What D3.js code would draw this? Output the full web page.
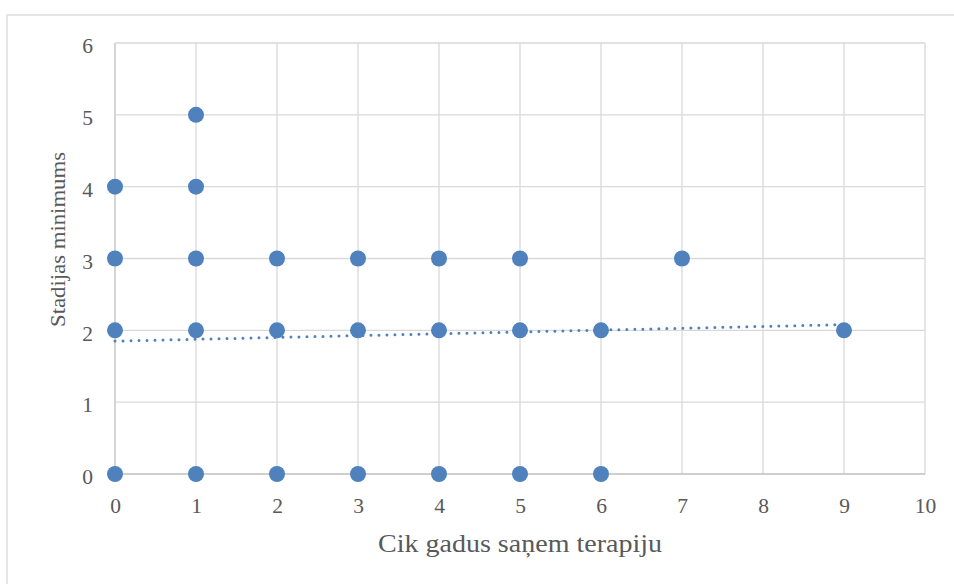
<!DOCTYPE html>
<html><head><meta charset="utf-8">
<script src="https://cdn.jsdelivr.net/npm/d3@7"></script>
<style>body{margin:0;background:#fff}svg{display:block}</style>
</head><body>
<svg id="c" width="954" height="584"></svg>
<script>
const xValues = [0,0,0,0, 1,1,1,1,1, 2,2,2, 3,3,3, 4,4,4, 5,5,5, 6,6, 7, 9];
const yValues = [0,2,3,4, 0,2,3,4,5, 0,2,3, 0,2,3, 0,2,3, 0,2,3, 0,2, 3, 2];
const trendX = [0, 9];
const trendY = [1.85, 2.08];
const xTicks = [0,1,2,3,4,5,6,7,8,9,10];
const yTicks = [0,1,2,3,4,5,6];
const xTitle = "Cik gadus saņem terapiju";
const yTitle = "Stadijas minimums";

const svg = d3.select("#c");
const font = "'Liberation Serif', 'DejaVu Serif', serif";
const L = 115, R = 925, T = 43, B = 474;
const x = d3.scaleLinear().domain([0,10]).range([L,R]);
const y = d3.scaleLinear().domain([0,6]).range([B,T]);

svg.append("rect").attr("x",7).attr("y",15).attr("width",960).attr("height",600)
  .attr("fill","#fff").attr("stroke","#d9d9d9").attr("stroke-width",1.3);

const grid = svg.append("g");
grid.selectAll("line.v").data(xTicks).join("line")
  .attr("x1",d=>x(d)).attr("x2",d=>x(d)).attr("y1",T).attr("y2",B)
  .attr("stroke",d=>d===0?"#bfbfbf":"#d9d9d9").attr("stroke-width",1.3);
grid.selectAll("line.h").data(yTicks).join("line")
  .attr("x1",L).attr("x2",R).attr("y1",d=>y(d)).attr("y2",d=>y(d))
  .attr("stroke",d=>d===0?"#bfbfbf":"#d9d9d9").attr("stroke-width",1.3);

const xAxis = d3.axisBottom(x).tickValues(xTicks).tickSize(0).tickPadding(0).tickFormat(d3.format("d"));
const gx = svg.append("g").attr("transform",`translate(0,${B})`).call(xAxis);
gx.select(".domain").remove();
gx.selectAll("text").attr("dy",null).attr("y",39).attr("fill","#595959")
  .style("font-family",font).style("font-size","21.5px");

const yAxis = d3.axisLeft(y).tickValues(yTicks).tickSize(0).tickPadding(0).tickFormat(d3.format("d"));
const gy = svg.append("g").attr("transform",`translate(${L},0)`).call(yAxis);
gy.select(".domain").remove();
gy.selectAll("text").attr("x",-22).attr("dy","0.45em").attr("fill","#595959")
  .style("font-family",font).style("font-size","21.5px");

svg.append("line")
  .attr("x1",x(trendX[0])).attr("y1",y(trendY[0]))
  .attr("x2",x(trendX[1])).attr("y2",y(trendY[1]))
  .attr("stroke","#4f81bd").attr("stroke-width",3)
  .attr("stroke-dasharray","0 8").attr("stroke-linecap","round");

const pts = xValues.map((v,i)=>({x:v,y:yValues[i]}));
svg.append("g").selectAll("circle").data(pts).join("circle")
  .attr("cx",d=>x(d.x)).attr("cy",d=>y(d.y)).attr("r",8)
  .attr("fill","#4f81bd");

svg.append("text").attr("x",520).attr("y",552).attr("text-anchor","middle")
  .attr("fill","#595959").style("font-family",font).style("font-size","24.5px")
  .attr("textLength",284).attr("lengthAdjust","spacingAndGlyphs").text(xTitle);
svg.append("text").attr("transform",`translate(65,239.5) rotate(-90)`)
  .attr("text-anchor","middle").attr("fill","#595959")
  .style("font-family",font).style("font-size","21px")
  .attr("textLength",175).attr("lengthAdjust","spacingAndGlyphs").text(yTitle);
</script>
</body></html>
